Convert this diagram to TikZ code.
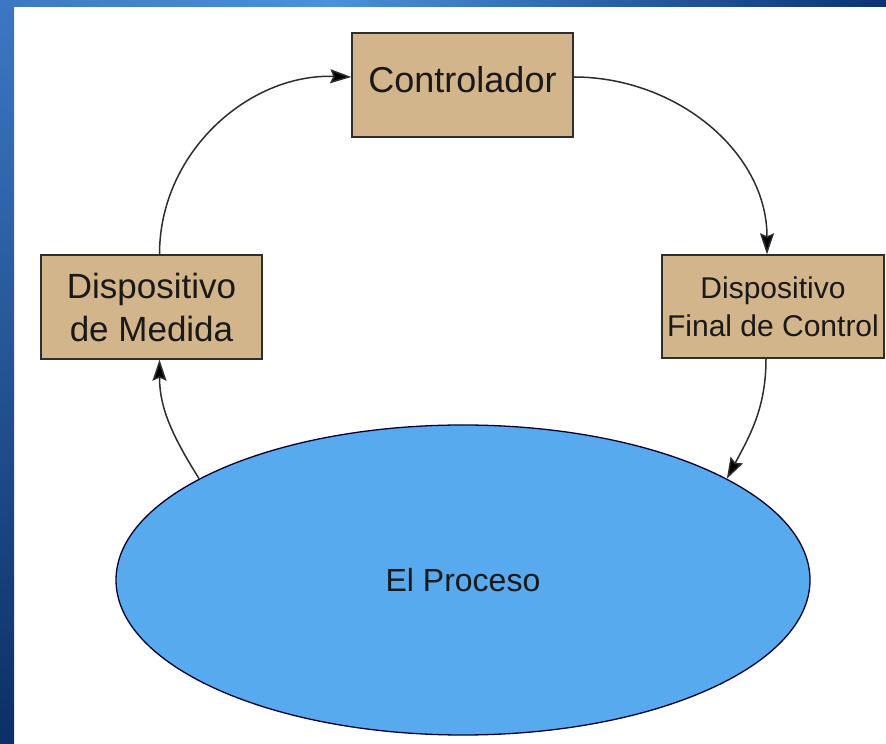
\documentclass[tikz,border=0pt]{standalone}
\usepackage{fontspec}
\setmainfont{Liberation Sans}
\usetikzlibrary{shapes.geometric,arrows.meta}
\definecolor{boxtan}{HTML}{D3B58B}
\definecolor{procblue}{HTML}{58AAEE}
\definecolor{edgegray}{HTML}{2E2E2E}
\definecolor{frameA}{HTML}{3C78C2}
\definecolor{frameB}{HTML}{4B91DC}
\definecolor{frameC}{HTML}{0A3270}
\definecolor{frameD}{HTML}{0B2F66}
\tikzset{
  blockbox/.style={draw=edgegray, line width=1.4pt, fill=boxtan, rectangle, inner sep=0pt, text=black!90, align=center},
  procshape/.style={draw=black!80!blue, line width=1.3pt, fill=procblue, ellipse, inner sep=0pt, minimum width=694pt, minimum height=310pt, text=black!90},
  flow/.style={draw=edgegray, line width=1.5pt, -{Stealth[length=21pt,width=14pt,inset=3pt,fill=black]}}
}
\begin{document}
\begin{tikzpicture}[x=1pt,y=1pt]
\useasboundingbox (0,0) rectangle (886,744);
\fill[white] (0,0) rectangle (886,744);
% frame
\shade[left color=frameA, right color=frameB] (0,737) rectangle (330,744);
\shade[left color=frameB, right color=frameC] (330,737) rectangle (886,744);
\shade[top color=frameA, bottom color=frameD] (0,0) rectangle (14,744);

\node[blockbox, minimum width=221pt, minimum height=104pt, font=\fontsize{36}{43}\selectfont, text depth=10pt, text height=26pt] (ctrl) at (462.5,659) {Controlador};
\node[blockbox, minimum width=221pt, minimum height=104pt, font=\fontsize{35}{43}\selectfont] (med) at (151.5,437) {Dispositivo\\de Medida};
\node[blockbox, minimum width=222pt, minimum height=103pt, font=\fontsize{30}{38}\selectfont] (fin) at (773,437.5) {Dispositivo\\Final de Control};
\node[procshape, font=\fontsize{32}{38}\selectfont] (proc) at (463,164) {El Proceso};

\draw[flow] ([xshift=8pt]med.north) to[out=90,in=178] ([yshift=8pt]ctrl.west);
\draw[flow] ([yshift=8pt]ctrl.east) to[out=0,in=90] ([xshift=-6pt]fin.north);
\draw[flow] ([xshift=-7pt]fin.south) to[out=-90,in=62] (proc.21);
\draw[flow] (proc.159) to[out=122,in=-90] ([xshift=8pt]med.south);
\end{tikzpicture}
\end{document}
